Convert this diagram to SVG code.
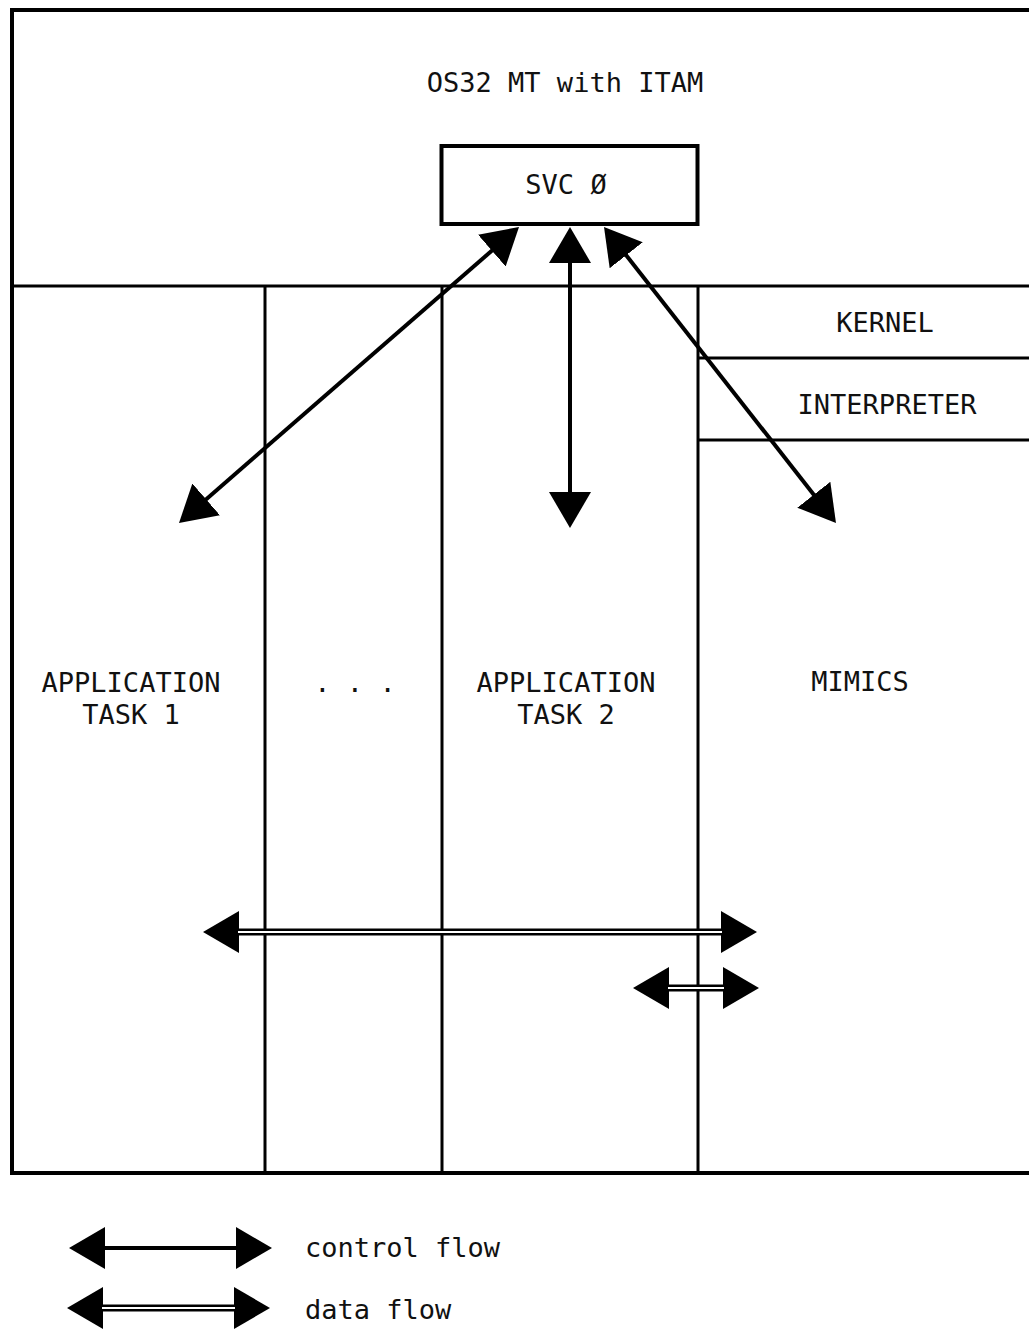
<svg xmlns="http://www.w3.org/2000/svg" width="1029" height="1331" viewBox="0 0 1029 1331">
<style>
.frame{fill:none;stroke:#000;stroke-width:4}
.div{fill:none;stroke:#000;stroke-width:3}
.t{font-family:"DejaVu Sans Mono","Liberation Mono",monospace;font-size:27px;fill:#111;text-anchor:middle}
.tl{font-family:"DejaVu Sans Mono","Liberation Mono",monospace;font-size:27px;fill:#111}
.ctl{stroke:#000;stroke-width:4;fill:none}
.dat{stroke:#000;stroke-width:7;fill:none}
.datin{stroke:#fff;stroke-width:2;fill:none}
.head{fill:#000}
</style>
<defs>
<marker id="ah" markerUnits="userSpaceOnUse" markerWidth="36" markerHeight="42" refX="1" refY="21" orient="auto-start-reverse" viewBox="0 0 36 42">
<path class="head" d="M0,0 L36,21 L0,42 z"/>
</marker>
</defs>
<g id="frame">
<path class="frame" d="M1035,10 L12,10 L12,1173 L1035,1173"/>
<line class="div" x1="12" y1="286" x2="1029" y2="286"/>
<line class="div" x1="265" y1="286" x2="265" y2="1173"/>
<line class="div" x1="442" y1="286" x2="442" y2="1173"/>
<line class="div" x1="698" y1="286" x2="698" y2="1173"/>
</g>
<g id="os32"><text class="t" x="565" y="92">OS32 MT with ITAM</text></g>
<g id="svc">
<rect x="441.5" y="146" width="256" height="78" fill="#fff" stroke="#000" stroke-width="4"/>
<text class="t" x="566" y="194">SVC Ø</text>
</g>
<g id="kernel">
<line class="div" x1="698" y1="358" x2="1029" y2="358"/>
<text class="t" x="885" y="332">KERNEL</text>
</g>
<g id="interpreter">
<line class="div" x1="698" y1="440" x2="1029" y2="440"/>
<text class="t" x="887" y="414">INTERPRETER</text>
</g>
<g id="task1"><text class="t" x="131" y="692">APPLICATION</text><text class="t" x="131" y="724">TASK 1</text></g>
<g id="dots"><text class="t" x="355" y="692">. . .</text></g>
<g id="task2"><text class="t" x="566" y="692">APPLICATION</text><text class="t" x="566" y="724">TASK 2</text></g>
<g id="mimics"><text class="t" x="860" y="691">MIMICS</text></g>
<g id="connectors">
<line class="ctl" x1="492.6" y1="250" x2="205.4" y2="500" marker-start="url(#ah)" marker-end="url(#ah)"/>
<line class="ctl" x1="570" y1="262" x2="570" y2="493" marker-start="url(#ah)" marker-end="url(#ah)"/>
<line class="ctl" x1="625.6" y1="254.5" x2="814.4" y2="495.5" marker-start="url(#ah)" marker-end="url(#ah)"/>
<line class="dat" x1="238" y1="932" x2="722" y2="932" marker-start="url(#ah)" marker-end="url(#ah)"/>
<line class="datin" x1="238" y1="932" x2="722" y2="932"/>
<line class="dat" x1="668" y1="988" x2="724" y2="988" marker-start="url(#ah)" marker-end="url(#ah)"/>
<line class="datin" x1="668" y1="988" x2="724" y2="988"/>
</g>
<g id="legend">
<line class="ctl" x1="104" y1="1248" x2="237" y2="1248" marker-start="url(#ah)" marker-end="url(#ah)"/>
<text class="tl" x="305" y="1257">control flow</text>
<line class="dat" x1="102" y1="1308" x2="235" y2="1308" marker-start="url(#ah)" marker-end="url(#ah)"/>
<line class="datin" x1="102" y1="1308" x2="235" y2="1308"/>
<text class="tl" x="305" y="1319">data flow</text>
</g>
</svg>
